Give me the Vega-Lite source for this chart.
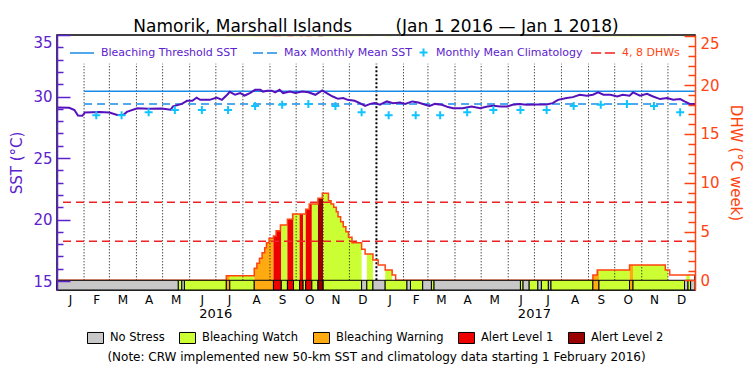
{
  "$schema": "https://vega.github.io/schema/vega-lite/v6.json",
  "width": 638,
  "height": 255,
  "autosize": {"type": "none"},
  "padding": {"left": 57, "top": 35, "right": 55, "bottom": 85},
  "background": "white",
  "config": {
    "view": {"stroke": "black", "strokeWidth": 1.5},
    "font": "DejaVu Sans",
    "axis": {"grid": false, "labelOverlap": false}
  },
  "title": {
    "text": "Namorik, Marshall Islands\u00a0\u00a0\u00a0\u00a0\u00a0\u00a0\u00a0\u00a0(Jan 1 2016 \u2014 Jan 1 2018)",
    "font": "DejaVu Sans", "fontSize": 17, "fontWeight": "normal", "color": "black",
    "anchor": "middle", "frame": "group", "offset": -2
  },
  "datasets": {
    "sst": [
      {"date":"2016-01-01","sst":29.1},{"date":"2016-01-15","sst":29.08},{"date":"2016-01-21","sst":28.9},
      {"date":"2016-01-25","sst":28.45},{"date":"2016-01-30","sst":28.43},{"date":"2016-02-02","sst":28.7},
      {"date":"2016-02-19","sst":28.75},{"date":"2016-03-01","sst":28.7},{"date":"2016-03-10","sst":28.5},
      {"date":"2016-03-17","sst":28.5},{"date":"2016-03-21","sst":28.75},{"date":"2016-04-02","sst":29.05},
      {"date":"2016-04-15","sst":29.0},{"date":"2016-04-30","sst":29.02},{"date":"2016-05-10","sst":28.92},
      {"date":"2016-05-13","sst":29.2},{"date":"2016-05-23","sst":29.4},{"date":"2016-05-29","sst":29.65},
      {"date":"2016-06-04","sst":29.65},{"date":"2016-06-09","sst":29.9},{"date":"2016-06-13","sst":29.73},
      {"date":"2016-06-24","sst":29.73},{"date":"2016-07-02","sst":29.92},{"date":"2016-07-08","sst":29.73},
      {"date":"2016-07-14","sst":30.14},{"date":"2016-07-17","sst":30.38},{"date":"2016-07-23","sst":30.14},
      {"date":"2016-07-29","sst":30.28},{"date":"2016-08-03","sst":30.08},{"date":"2016-08-09","sst":30.28},
      {"date":"2016-08-15","sst":30.54},{"date":"2016-08-21","sst":30.54},{"date":"2016-08-24","sst":30.4},
      {"date":"2016-08-29","sst":30.47},{"date":"2016-09-03","sst":30.47},{"date":"2016-09-07","sst":30.33},
      {"date":"2016-09-12","sst":30.54},{"date":"2016-09-16","sst":30.28},{"date":"2016-09-24","sst":30.4},
      {"date":"2016-09-30","sst":30.28},{"date":"2016-10-08","sst":30.4},{"date":"2016-10-15","sst":30.35},
      {"date":"2016-10-23","sst":30.14},{"date":"2016-10-31","sst":30.49},{"date":"2016-11-05","sst":30.28},
      {"date":"2016-11-12","sst":30.0},{"date":"2016-11-18","sst":29.81},{"date":"2016-11-24","sst":29.87},
      {"date":"2016-11-29","sst":29.73},{"date":"2016-12-07","sst":29.65},{"date":"2016-12-13","sst":29.46},
      {"date":"2016-12-19","sst":29.24},{"date":"2016-12-25","sst":29.4},{"date":"2016-12-30","sst":29.46},
      {"date":"2017-01-05","sst":29.33},{"date":"2017-01-13","sst":29.6},{"date":"2017-01-20","sst":29.46},
      {"date":"2017-01-28","sst":29.51},{"date":"2017-02-03","sst":29.4},{"date":"2017-02-11","sst":29.6},
      {"date":"2017-02-18","sst":29.51},{"date":"2017-02-26","sst":29.33},{"date":"2017-03-03","sst":29.24},
      {"date":"2017-03-09","sst":29.4},{"date":"2017-03-17","sst":29.33},{"date":"2017-03-24","sst":29.14},
      {"date":"2017-03-30","sst":29.05},{"date":"2017-04-10","sst":29.05},{"date":"2017-04-20","sst":29.19},
      {"date":"2017-04-30","sst":29.05},{"date":"2017-05-08","sst":29.19},{"date":"2017-05-15","sst":29.24},
      {"date":"2017-05-23","sst":29.19},{"date":"2017-05-31","sst":29.19},{"date":"2017-06-06","sst":29.33},
      {"date":"2017-06-14","sst":29.4},{"date":"2017-06-22","sst":29.33},{"date":"2017-07-04","sst":29.35},
      {"date":"2017-07-15","sst":29.35},{"date":"2017-07-22","sst":29.46},{"date":"2017-07-28","sst":29.73},
      {"date":"2017-08-07","sst":29.87},{"date":"2017-08-14","sst":29.95},{"date":"2017-08-22","sst":30.14},
      {"date":"2017-08-30","sst":30.06},{"date":"2017-09-06","sst":30.14},{"date":"2017-09-12","sst":30.33},
      {"date":"2017-09-18","sst":30.14},{"date":"2017-09-26","sst":30.14},{"date":"2017-10-04","sst":30.0},
      {"date":"2017-10-10","sst":30.14},{"date":"2017-10-18","sst":30.06},{"date":"2017-10-22","sst":30.33},
      {"date":"2017-10-30","sst":30.06},{"date":"2017-11-07","sst":30.22},{"date":"2017-11-14","sst":30.0},
      {"date":"2017-11-22","sst":29.79},{"date":"2017-11-30","sst":29.87},{"date":"2017-12-07","sst":29.73},
      {"date":"2017-12-15","sst":29.79},{"date":"2017-12-20","sst":29.6},{"date":"2017-12-26","sst":29.4},
      {"date":"2018-01-01","sst":29.4}
    ],
    "clim": [
      {"date":"2016-02-15","sst":28.47},{"date":"2016-03-15","sst":28.47},{"date":"2016-04-15","sst":28.73},
      {"date":"2016-05-15","sst":28.9},{"date":"2016-06-15","sst":28.9},{"date":"2016-07-15","sst":28.9},
      {"date":"2016-08-15","sst":29.22},{"date":"2016-09-15","sst":29.33},{"date":"2016-10-15","sst":29.4},
      {"date":"2016-11-15","sst":29.22},{"date":"2016-12-15","sst":28.73},{"date":"2017-01-15","sst":28.47},
      {"date":"2017-02-15","sst":28.47},{"date":"2017-03-15","sst":28.47},{"date":"2017-04-15","sst":28.73},
      {"date":"2017-05-15","sst":28.9},{"date":"2017-06-15","sst":28.9},{"date":"2017-07-15","sst":28.9},
      {"date":"2017-08-15","sst":29.22},{"date":"2017-09-15","sst":29.33},{"date":"2017-10-15","sst":29.4},
      {"date":"2017-11-15","sst":29.22},{"date":"2017-12-15","sst":28.73}
    ],
    "dhw": [
      {"date":"2016-01-01","dhw":0},{"date":"2016-07-13","dhw":0.47},{"date":"2016-08-14","dhw":1.23},
      {"date":"2016-08-17","dhw":1.74},{"date":"2016-08-20","dhw":2.26},{"date":"2016-08-23","dhw":2.83},
      {"date":"2016-08-26","dhw":3.34},{"date":"2016-08-28","dhw":3.86},{"date":"2016-08-31","dhw":4.31},
      {"date":"2016-09-05","dhw":4.54},{"date":"2016-09-08","dhw":5.09},{"date":"2016-09-13","dhw":5.67},
      {"date":"2016-09-21","dhw":6.26},{"date":"2016-09-27","dhw":6.8},{"date":"2016-10-12","dhw":7.28},
      {"date":"2016-10-16","dhw":7.83},{"date":"2016-10-26","dhw":8.41},{"date":"2016-10-31","dhw":8.92},
      {"date":"2016-11-07","dhw":8.16},{"date":"2016-11-10","dhw":7.83},{"date":"2016-11-13","dhw":7.49},
      {"date":"2016-11-16","dhw":7.04},{"date":"2016-11-18","dhw":6.52},{"date":"2016-11-21","dhw":6.01},
      {"date":"2016-11-24","dhw":5.5},{"date":"2016-11-27","dhw":4.99},{"date":"2016-11-30","dhw":4.41},
      {"date":"2016-12-04","dhw":3.86},{"date":"2016-12-15","dhw":3.18},{"date":"2016-12-19","dhw":2.7},
      {"date":"2016-12-28","dhw":2.08},{"date":"2017-01-03","dhw":1.57},{"date":"2017-01-11","dhw":1.06},
      {"date":"2017-01-19","dhw":0.54},{"date":"2017-01-23","dhw":0},{"date":"2017-09-06","dhw":0.54},
      {"date":"2017-09-11","dhw":1.06},{"date":"2017-10-18","dhw":1.57},{"date":"2017-11-28","dhw":1.06},
      {"date":"2017-12-03","dhw":0.54},{"date":"2018-01-01","dhw":0.54}
    ],
    "fillseg": [
      {"start":"2016-07-13","end":"2016-07-17","cat":"Bleaching Warning"},
      {"start":"2016-07-17","end":"2016-08-14","cat":"Bleaching Watch"},
      {"start":"2016-08-14","end":"2016-09-05","cat":"Bleaching Warning"},
      {"start":"2016-09-05","end":"2016-09-14","cat":"Alert Level 1"},
      {"start":"2016-09-14","end":"2016-09-21","cat":"Bleaching Watch"},
      {"start":"2016-09-21","end":"2016-09-28","cat":"Alert Level 1"},
      {"start":"2016-09-28","end":"2016-10-05","cat":"Bleaching Watch"},
      {"start":"2016-10-05","end":"2016-10-09","cat":"Alert Level 1"},
      {"start":"2016-10-09","end":"2016-10-12","cat":"Bleaching Watch"},
      {"start":"2016-10-12","end":"2016-10-19","cat":"Alert Level 1"},
      {"start":"2016-10-19","end":"2016-10-26","cat":"Bleaching Watch"},
      {"start":"2016-10-26","end":"2016-11-01","cat":"Alert Level 2"},
      {"start":"2016-11-01","end":"2016-12-15","cat":"Bleaching Watch"},
      {"start":"2016-12-21","end":"2016-12-28","cat":"Bleaching Watch"},
      {"start":"2017-01-11","end":"2017-01-19","cat":"Bleaching Watch"},
      {"start":"2017-09-06","end":"2017-09-13","cat":"Bleaching Warning"},
      {"start":"2017-09-13","end":"2017-10-18","cat":"Bleaching Watch"},
      {"start":"2017-10-18","end":"2017-10-22","cat":"Bleaching Warning"},
      {"start":"2017-10-22","end":"2017-12-01","cat":"Bleaching Watch"},
      {"start":"2017-12-22","end":"2017-12-26","cat":"Bleaching Watch"}
    ],
    "stress": [
      {"start":"2016-01-01","end":"2016-05-19","cat":"No Stress"},
      {"start":"2016-05-19","end":"2016-05-23","cat":"Bleaching Watch"},
      {"start":"2016-05-23","end":"2016-05-26","cat":"No Stress"},
      {"start":"2016-05-26","end":"2016-07-13","cat":"Bleaching Watch"},
      {"start":"2016-07-13","end":"2016-07-17","cat":"Bleaching Warning"},
      {"start":"2016-07-17","end":"2016-08-14","cat":"Bleaching Watch"},
      {"start":"2016-08-14","end":"2016-09-05","cat":"Bleaching Warning"},
      {"start":"2016-09-05","end":"2016-09-14","cat":"Alert Level 1"},
      {"start":"2016-09-14","end":"2016-09-21","cat":"Bleaching Watch"},
      {"start":"2016-09-21","end":"2016-09-28","cat":"Alert Level 1"},
      {"start":"2016-09-28","end":"2016-10-05","cat":"Bleaching Watch"},
      {"start":"2016-10-05","end":"2016-10-09","cat":"Alert Level 1"},
      {"start":"2016-10-09","end":"2016-10-12","cat":"Bleaching Watch"},
      {"start":"2016-10-12","end":"2016-10-19","cat":"Alert Level 1"},
      {"start":"2016-10-19","end":"2016-10-26","cat":"Bleaching Watch"},
      {"start":"2016-10-26","end":"2016-11-01","cat":"Alert Level 2"},
      {"start":"2016-11-01","end":"2016-12-15","cat":"Bleaching Watch"},
      {"start":"2016-12-15","end":"2016-12-21","cat":"No Stress"},
      {"start":"2016-12-21","end":"2016-12-28","cat":"Bleaching Watch"},
      {"start":"2016-12-28","end":"2017-01-11","cat":"No Stress"},
      {"start":"2017-01-11","end":"2017-02-05","cat":"Bleaching Watch"},
      {"start":"2017-02-05","end":"2017-02-09","cat":"No Stress"},
      {"start":"2017-02-09","end":"2017-02-23","cat":"Bleaching Watch"},
      {"start":"2017-02-23","end":"2017-03-05","cat":"No Stress"},
      {"start":"2017-03-05","end":"2017-03-08","cat":"Bleaching Watch"},
      {"start":"2017-03-08","end":"2017-06-15","cat":"No Stress"},
      {"start":"2017-06-15","end":"2017-06-18","cat":"Bleaching Watch"},
      {"start":"2017-06-18","end":"2017-06-25","cat":"No Stress"},
      {"start":"2017-06-25","end":"2017-07-05","cat":"Bleaching Watch"},
      {"start":"2017-07-05","end":"2017-07-09","cat":"No Stress"},
      {"start":"2017-07-09","end":"2017-07-17","cat":"Bleaching Watch"},
      {"start":"2017-07-17","end":"2017-07-20","cat":"No Stress"},
      {"start":"2017-07-20","end":"2017-09-06","cat":"Bleaching Watch"},
      {"start":"2017-09-06","end":"2017-09-13","cat":"Bleaching Warning"},
      {"start":"2017-09-13","end":"2017-10-18","cat":"Bleaching Watch"},
      {"start":"2017-10-18","end":"2017-10-22","cat":"Bleaching Warning"},
      {"start":"2017-10-22","end":"2017-12-20","cat":"Bleaching Watch"},
      {"start":"2017-12-20","end":"2017-12-24","cat":"No Stress"},
      {"start":"2017-12-24","end":"2017-12-27","cat":"Bleaching Watch"},
      {"start":"2017-12-27","end":"2018-01-01","cat":"No Stress"}
    ],
    "months": [
      {"date":"2016-02-01"},{"date":"2016-03-01"},{"date":"2016-04-01"},{"date":"2016-05-01"},
      {"date":"2016-06-01"},{"date":"2016-07-01"},{"date":"2016-08-01"},{"date":"2016-09-01"},
      {"date":"2016-10-01"},{"date":"2016-11-01"},{"date":"2016-12-01"},
      {"date":"2017-02-01"},{"date":"2017-03-01"},{"date":"2017-04-01"},{"date":"2017-05-01"},
      {"date":"2017-06-01"},{"date":"2017-07-01"},{"date":"2017-08-01"},{"date":"2017-09-01"},
      {"date":"2017-10-01"},{"date":"2017-11-01"},{"date":"2017-12-01"}
    ],
    "yearline": [{"date":"2017-01-01"}],
    "threshold": [{"start":"2016-02-01","end":"2018-01-01","sst":30.43}],
    "mmm": [{"start":"2016-02-01","end":"2018-01-01","sst":29.4}],
    "dhwref": [{"dhw":4},{"dhw":8}],
    "years": [{"date":"2016-07-01","label":"2016"},{"date":"2017-07-01","label":"2017"}],
    "legendLines": [
      {"date":"2015-06-01","line":"Bleaching Threshold SST"},
      {"date":"2015-06-01","line":"Max Monthly Mean SST"}
    ],
    "legendClim": [{"date":"2015-06-01","clim":"Monthly Mean Climatology"}],
    "legendDhw": [{"date":"2015-06-01","dhwl":"4, 8 DHWs"}]
  },
  "layer": [
    {
      "layer": [
        {
          "data": {"name": "fillseg"},
          "mark": {"type": "rect"},
          "encoding": {
            "x": {
              "field": "start", "type": "temporal",
              "scale": {"type": "utc", "nice": false, "domain": [{"year":2016,"month":1,"date":1,"utc":true},{"year":2018,"month":1,"date":1,"utc":true}]},
              "axis": {
                "values": [
                  {"year":2016,"month":1,"date":16,"utc":true},{"year":2016,"month":2,"date":15,"utc":true},{"year":2016,"month":3,"date":16,"utc":true},
                  {"year":2016,"month":4,"date":15,"utc":true},{"year":2016,"month":5,"date":16,"utc":true},{"year":2016,"month":6,"date":15,"utc":true},
                  {"year":2016,"month":7,"date":16,"utc":true},{"year":2016,"month":8,"date":16,"utc":true},{"year":2016,"month":9,"date":15,"utc":true},
                  {"year":2016,"month":10,"date":16,"utc":true},{"year":2016,"month":11,"date":15,"utc":true},{"year":2016,"month":12,"date":16,"utc":true},
                  {"year":2017,"month":1,"date":16,"utc":true},{"year":2017,"month":2,"date":15,"utc":true},{"year":2017,"month":3,"date":16,"utc":true},
                  {"year":2017,"month":4,"date":15,"utc":true},{"year":2017,"month":5,"date":16,"utc":true},{"year":2017,"month":6,"date":15,"utc":true},
                  {"year":2017,"month":7,"date":16,"utc":true},{"year":2017,"month":8,"date":16,"utc":true},{"year":2017,"month":9,"date":15,"utc":true},
                  {"year":2017,"month":10,"date":16,"utc":true},{"year":2017,"month":11,"date":15,"utc":true},{"year":2017,"month":12,"date":16,"utc":true}
                ],
                "tickCount": 200,
                "labelExpr": "substring(utcFormat(datum.value, '%b'), 0, 1)",
                "ticks": false, "domain": false, "labelPadding": 4, "labelFlush": false, "labelOverlap": false,
                "labelFont": "DejaVu Sans", "labelFontSize": 12, "labelColor": "black",
                "title": "(Note: CRW implemented new 50-km SST and climatology data starting 1 February 2016)",
                "titleFont": "DejaVu Sans", "titleFontSize": 12, "titleFontWeight": "normal", "titleColor": "black", "titlePadding": 46
              }
            },
            "x2": {"field": "end"},
            "y": {"datum": 0, "type": "quantitative", "scale": {"domain": [-0.995, 25.15], "nice": false, "zero": false}, "axis": null},
            "y2": {"datum": 25},
            "fill": {
              "field": "cat", "type": "nominal",
              "scale": {"domain": ["No Stress","Bleaching Watch","Bleaching Warning","Alert Level 1","Alert Level 2"], "range": ["#c8c8c8","#ccff33","#ffaa11","#ee0000","#990000"]},
              "legend": {"orient": "none", "legendX": 30, "legendY": 294, "direction": "horizontal", "title": null,
                "labelFont": "DejaVu Sans", "labelFontSize": 11.5, "labelColor": "black",
                "symbolType": "M-1,-0.69H1V0.69H-1Z", "symbolSize": 256, "symbolStrokeColor": "black", "symbolStrokeWidth": 1,
                "columnPadding": 12, "labelOffset": 6}
            }
          }
        },
        {
          "data": {"name": "dhw"},
          "mark": {"type": "area", "interpolate": "step-after", "fill": "white"},
          "encoding": {
            "x": {"field": "date", "type": "temporal"},
            "y": {"field": "dhw", "type": "quantitative"},
            "y2": {"datum": 25}
          }
        },
        {
          "data": {"name": "months"},
          "mark": {"type": "rule", "color": "black", "strokeWidth": 1, "strokeDash": [1, 2]},
          "encoding": {
            "x": {"field": "date", "type": "temporal"},
            "y": {"datum": 0, "type": "quantitative"},
            "y2": {"datum": 22.2}
          }
        },
        {
          "data": {"name": "yearline"},
          "mark": {"type": "rule", "color": "black", "strokeWidth": 2, "strokeDash": [2, 2]},
          "encoding": {
            "x": {"field": "date", "type": "temporal"},
            "y": {"datum": 0, "type": "quantitative"},
            "y2": {"datum": 22.2}
          }
        }
      ]
    },
    {
      "layer": [
        {
          "data": {"name": "threshold"},
          "mark": {"type": "rule", "color": "#1a8ce8", "strokeWidth": 1.5},
          "encoding": {
            "x": {"field": "start", "type": "temporal"},
            "x2": {"field": "end"},
            "y": {
              "field": "sst", "type": "quantitative",
              "scale": {"domain": [14.27, 35], "nice": false, "zero": false},
              "axis": {
                "orient": "left", "zindex": 1, "tickCount": 200, "format": "d",
                "values": [15,16,17,18,19,20,21,22,23,24,25,26,27,28,29,30,31,32,33,34,35],
                "labelExpr": "datum.value % 5 === 0 ? datum.label : ''",
                "tickSize": {"condition": {"test": "datum.value % 5 === 0", "value": -13}, "value": -6},
                "labelPadding": 18, "labelOverlap": false, "labelFlush": 3,
                "tickColor": "#5c22cc", "tickWidth": 1.5, "domainColor": "#5c22cc", "domainWidth": 1.5,
                "labelColor": "#5c22cc", "labelFont": "DejaVu Sans", "labelFontSize": 15,
                "title": "SST (\u00b0C)", "titleColor": "#5c22cc", "titleFont": "DejaVu Sans", "titleFontSize": 15,
                "titleFontWeight": "normal", "titlePadding": 8
              }
            }
          }
        },
        {
          "data": {"name": "mmm"},
          "mark": {"type": "rule", "color": "#1a8ce8", "strokeWidth": 1.5, "strokeDash": [8, 5]},
          "encoding": {
            "x": {"field": "start", "type": "temporal"},
            "x2": {"field": "end"},
            "y": {"field": "sst", "type": "quantitative"}
          }
        },
        {
          "data": {"name": "sst"},
          "mark": {"type": "line", "color": "#5511bb", "strokeWidth": 2},
          "encoding": {
            "x": {"field": "date", "type": "temporal"},
            "y": {"field": "sst", "type": "quantitative"}
          }
        },
        {
          "data": {"name": "clim"},
          "mark": {"type": "point", "shape": "M-1,0H1M0,-1V1", "size": 64, "filled": false, "stroke": "#11c4ff", "strokeWidth": 2, "opacity": 1},
          "encoding": {
            "x": {"field": "date", "type": "temporal"},
            "y": {"field": "sst", "type": "quantitative"}
          }
        },
        {
          "data": {"name": "legendLines"},
          "mark": {"type": "point", "filled": false, "shape": "M-1,0H1", "size": 576, "stroke": "#1a8ce8", "strokeWidth": 1.5, "clip": true, "opacity": 1},
          "encoding": {
            "x": {"field": "date", "type": "temporal"},
            "strokeDash": {
              "field": "line", "type": "nominal",
              "scale": {"domain": ["Bleaching Threshold SST","Max Monthly Mean SST"], "range": [[1, 0], [10, 4]]},
              "legend": {"orient": "none", "legendX": 12, "legendY": 5, "direction": "horizontal", "title": null,
                "labelFont": "DejaVu Sans", "labelFontSize": 11, "labelColor": "#5c22cc",
                "symbolType": "M-1,0H1", "symbolSize": 576, "symbolStrokeColor": "#1a8ce8", "symbolStrokeWidth": 1.5,
                "columnPadding": 12, "labelOffset": 6}
            }
          }
        },
        {
          "data": {"name": "legendClim"},
          "mark": {"type": "point", "filled": false, "shape": "M-1,0H1M0,-1V1", "size": 64, "strokeWidth": 2, "clip": true, "opacity": 1},
          "encoding": {
            "x": {"field": "date", "type": "temporal"},
            "color": {
              "field": "clim", "type": "nominal",
              "scale": {"domain": ["Monthly Mean Climatology"], "range": ["#11c4ff"]},
              "legend": {"orient": "none", "legendX": 361, "legendY": 12, "direction": "horizontal", "title": null,
                "labelFont": "DejaVu Sans", "labelFontSize": 11, "labelColor": "#5c22cc",
                "symbolType": "M-1,0H1M0,-1V1", "symbolSize": 64, "symbolStrokeWidth": 2, "labelOffset": 7}
            }
          }
        },
        {
          "data": {"name": "legendDhw"},
          "mark": {"type": "point", "filled": false, "size": 576, "stroke": "#ee2222", "strokeWidth": 1.5, "clip": true, "opacity": 1},
          "encoding": {
            "x": {"field": "date", "type": "temporal"},
            "shape": {
              "field": "dhwl", "type": "nominal",
              "scale": {"domain": ["4, 8 DHWs"], "range": ["M-1,0H-0.15M0.15,0H1"]},
              "legend": {"orient": "none", "legendX": 533, "legendY": 5, "direction": "horizontal", "title": null,
                "labelFont": "DejaVu Sans", "labelFontSize": 11, "labelColor": "#ff4411",
                "symbolSize": 576, "symbolStrokeColor": "#ee2222", "symbolStrokeWidth": 1.5, "labelOffset": 6}
            }
          }
        }
      ]
    },
    {
      "layer": [
        {
          "data": {"name": "dhwref"},
          "mark": {"type": "rule", "color": "#ee2222", "strokeWidth": 1.5, "strokeDash": [8, 5]},
          "encoding": {
            "y": {
              "field": "dhw", "type": "quantitative",
              "scale": {"domain": [-0.995, 25.15], "nice": false, "zero": false},
              "axis": {
                "orient": "right", "zindex": 1, "tickCount": 200, "format": "d",
                "values": [0,1,2,3,4,5,6,7,8,9,10,11,12,13,14,15,16,17,18,19,20,21,22,23,24,25],
                "labelExpr": "datum.value % 5 === 0 ? datum.label : ''",
                "tickSize": {"condition": {"test": "datum.value % 5 === 0", "value": -11}, "value": -7},
                "labelPadding": 16, "labelOverlap": false, "labelFlush": 3,
                "tickColor": "#ff4411", "tickWidth": 1.5, "domainColor": "#ff4411", "domainWidth": 1.5,
                "labelColor": "#ff4411", "labelFont": "DejaVu Sans", "labelFontSize": 15,
                "title": "DHW (\u00b0C week)", "titleColor": "#ff4411", "titleFont": "DejaVu Sans", "titleFontSize": 15,
                "titleFontWeight": "normal", "titlePadding": 8
              }
            }
          }
        },
        {
          "data": {"name": "dhw"},
          "mark": {"type": "line", "interpolate": "step-after", "color": "#ff4411", "strokeWidth": 1.5},
          "encoding": {
            "x": {"field": "date", "type": "temporal"},
            "y": {"field": "dhw", "type": "quantitative"}
          }
        },
        {
          "data": {"name": "stress"},
          "mark": {"type": "rect", "stroke": "black", "strokeWidth": 1},
          "encoding": {
            "x": {"field": "start", "type": "temporal"},
            "x2": {"field": "end"},
            "y": {"datum": -0.995, "type": "quantitative"},
            "y2": {"datum": 0},
            "fill": {
              "field": "cat", "type": "nominal",
              "legend": {"orient": "none", "legendX": 30, "legendY": 294, "direction": "horizontal", "title": null,
                "labelFont": "DejaVu Sans", "labelFontSize": 11.5, "labelColor": "black",
                "symbolType": "M-1,-0.69H1V0.69H-1Z", "symbolSize": 256, "symbolStrokeColor": "black", "symbolStrokeWidth": 1,
                "columnPadding": 12, "labelOffset": 6}
            }
          }
        },
        {
          "data": {"name": "years"},
          "mark": {"type": "text", "font": "DejaVu Sans", "fontSize": 13, "color": "black", "baseline": "middle", "align": "center"},
          "encoding": {
            "x": {"field": "date", "type": "temporal"},
            "y": {"datum": -3.5, "type": "quantitative"},
            "text": {"field": "label"}
          }
        }
      ]
    }
  ],
  "resolve": {"scale": {"y": "independent"}}
}
